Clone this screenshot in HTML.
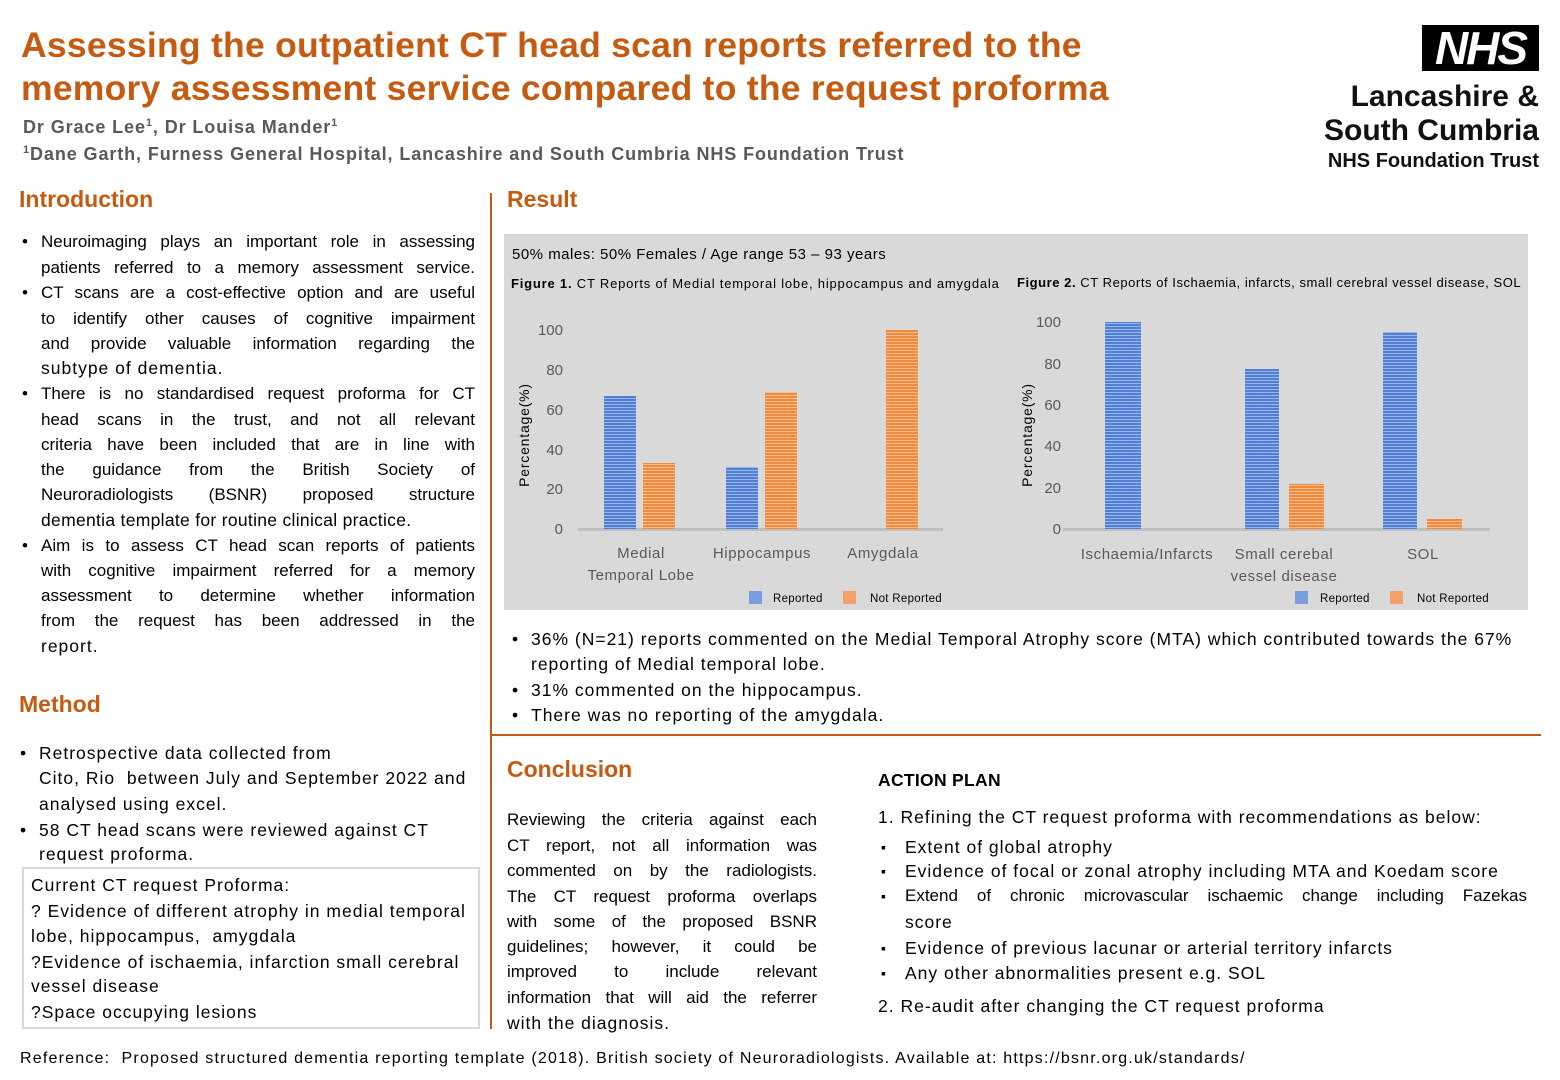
<!DOCTYPE html>
<html><head><meta charset="utf-8">
<style>
*{margin:0;padding:0;box-sizing:border-box}
body{width:1560px;height:1080px;background:#fff;position:relative;overflow:hidden;font-family:"Liberation Sans",sans-serif;color:#000}
.a{position:absolute;white-space:nowrap}
.t{font-weight:bold;color:#C55A11;font-size:35.5px;letter-spacing:0.25px}
.h{font-weight:bold;color:#C55A11;font-size:23px}
.au{font-weight:bold;color:#595959;font-size:18px;letter-spacing:0.9px}
.l{position:absolute;white-space:nowrap;font-size:17.5px;letter-spacing:1px;height:24px;line-height:24px}
.j{text-align:justify;text-align-last:justify;font-size:17px;letter-spacing:0}
.b::before{content:"•";position:absolute;left:-19px}
.s::before{content:"▪";position:absolute;left:-24px;font-size:14px}
</style></head><body>
<div class="a t" style="left:21px;top:25px">Assessing the outpatient CT head scan reports referred to the</div>
<div class="a t" style="left:21px;top:68px">memory assessment service compared to the request proforma</div>
<div class="a au" style="left:23px;top:117px">Dr Grace Lee<sup style="font-size:11px">1</sup>, Dr Louisa Mander<sup style="font-size:11px">1</sup></div>
<div class="a au" style="left:23px;top:144px"><sup style="font-size:11px">1</sup>Dane Garth, Furness General Hospital, Lancashire and South Cumbria NHS Foundation Trust</div>

<div class="a" style="left:1422px;top:25px;width:117px;height:46px;background:#000;color:#fff;font-weight:bold;font-style:italic;font-size:46px;line-height:46px;text-align:center;letter-spacing:-2px">NHS</div>
<div class="a" style="right:21px;top:80px;font-size:30px;font-weight:bold;text-align:right;line-height:34px;color:#111">Lancashire &amp;<br>South Cumbria</div>
<div class="a" style="right:21px;top:150px;font-size:20px;font-weight:bold;color:#111">NHS Foundation Trust</div>

<div class="a" style="left:490px;top:193px;width:2px;height:836px;background:#C55A11"></div>
<div class="a" style="left:490px;top:734px;width:1051px;height:2px;background:#C55A11"></div>

<div class="a h" style="left:19px;top:186px">Introduction</div>
<div class="a h" style="left:507px;top:186px">Result</div>
<div class="a h" style="left:19px;top:691px">Method</div>
<div class="a h" style="left:507px;top:756px">Conclusion</div>

<div class="l j b" style="left:41px;top:230px;width:434px">Neuroimaging plays an important role in assessing</div>
<div class="l j" style="left:41px;top:256px;width:434px">patients referred to a memory assessment service.</div>
<div class="l j b" style="left:41px;top:281px;width:434px">CT scans are a cost-effective option and are useful</div>
<div class="l j" style="left:41px;top:307px;width:434px">to identify other causes of cognitive impairment</div>
<div class="l j" style="left:41px;top:332px;width:434px">and provide valuable information regarding the</div>
<div class="l" style="left:41px;top:356px">subtype of dementia.</div>
<div class="l j b" style="left:41px;top:382px;width:434px">There is no standardised request proforma for CT</div>
<div class="l j" style="left:41px;top:408px;width:434px">head scans in the trust, and not all relevant</div>
<div class="l j" style="left:41px;top:433px;width:434px">criteria have been included that are in line with</div>
<div class="l j" style="left:41px;top:458px;width:434px">the guidance from the British Society of</div>
<div class="l j" style="left:41px;top:483px;width:434px">Neuroradiologists (BSNR) proposed structure</div>
<div class="l" style="left:41px;top:508px;letter-spacing:0.3px">dementia template for routine clinical practice.</div>
<div class="l j b" style="left:41px;top:534px;width:434px">Aim is to assess CT head scan reports of patients</div>
<div class="l j" style="left:41px;top:559px;width:434px">with cognitive impairment referred for a memory</div>
<div class="l j" style="left:41px;top:584px;width:434px">assessment to determine whether information</div>
<div class="l j" style="left:41px;top:609px;width:434px">from the request has been addressed in the</div>
<div class="l" style="left:41px;top:634px">report.</div>

<div class="l b" style="left:39px;top:741px">Retrospective data collected from</div>
<div class="l" style="left:39px;top:766px">Cito, Rio&nbsp; between July and September 2022 and</div>
<div class="l" style="left:39px;top:792px">analysed using excel.</div>
<div class="l b" style="left:39px;top:818px">58 CT head scans were reviewed against CT</div>
<div class="l" style="left:39px;top:842px">request proforma.</div>

<div class="a" style="left:22px;top:867px;width:458px;height:162px;border:2px solid #d9d9d9"></div>
<div class="l" style="left:31px;top:873px">Current CT request Proforma:</div>
<div class="l" style="left:31px;top:899px">? Evidence of different atrophy in medial temporal</div>
<div class="l" style="left:31px;top:924px">lobe, hippocampus,&nbsp; amygdala</div>
<div class="l" style="left:31px;top:950px">?Evidence of ischaemia, infarction small cerebral</div>
<div class="l" style="left:31px;top:974px">vessel disease</div>
<div class="l" style="left:31px;top:1000px">?Space occupying lesions</div>

<div class="l" style="left:20px;top:1047px;font-size:16px;letter-spacing:1.2px">Reference:&nbsp; Proposed structured dementia reporting template (2018). British society of Neuroradiologists. Available at: https://bsnr.org.uk/standards/</div>

<div class="a" style="left:504px;top:234px;width:1024px;height:376px;background:#d9d9d9"></div>
<svg class="a" style="left:0;top:0" width="1560" height="1080" viewBox="0 0 1560 1080" font-family="Liberation Sans, sans-serif">
<defs>
<pattern id="pb" width="4" height="3" patternUnits="userSpaceOnUse"><rect width="4" height="3" fill="#4f7fd6"/><rect y="2" width="4" height="1" fill="#9db6e6"/></pattern>
<pattern id="po" width="4" height="3" patternUnits="userSpaceOnUse"><rect width="4" height="3" fill="#f08a3c"/><rect y="2" width="4" height="1" fill="#f7bb8e"/></pattern>
</defs>
<text x="512" y="259" font-size="15" letter-spacing="0.5">50% males: 50% Females / Age range 53 – 93 years</text>
<text x="511" y="288" font-size="13" letter-spacing="0.8"><tspan font-weight="bold">Figure 1.</tspan> CT Reports of Medial temporal lobe, hippocampus and amygdala</text>
<text x="1017" y="287" font-size="13" letter-spacing="0.55"><tspan font-weight="bold">Figure 2.</tspan> CT Reports of Ischaemia, infarcts, small cerebral vessel disease, SOL</text>
<g font-size="15" fill="#595959" text-anchor="end">
<text x="563" y="335">100</text><text x="563" y="375">80</text><text x="563" y="415">60</text><text x="563" y="455">40</text><text x="563" y="494">20</text><text x="563" y="534">0</text>
<text x="1061" y="327">100</text><text x="1061" y="369">80</text><text x="1061" y="410">60</text><text x="1061" y="451">40</text><text x="1061" y="493">20</text><text x="1061" y="534">0</text>
</g>
<text transform="translate(529,435) rotate(-90)" font-size="14" letter-spacing="0.8" text-anchor="middle">Percentage(%)</text>
<text transform="translate(1032,435) rotate(-90)" font-size="14" letter-spacing="0.8" text-anchor="middle">Percentage(%)</text>
<rect x="578" y="528" width="365" height="3" fill="#bfbfbf"/>
<rect x="1063" y="528" width="427" height="3" fill="#bfbfbf"/>
<rect x="604" y="396" width="32" height="133" fill="url(#pb)"/>
<rect x="643" y="463" width="32" height="66" fill="url(#po)"/>
<rect x="726" y="467" width="32" height="62" fill="url(#pb)"/>
<rect x="765" y="392" width="32" height="137" fill="url(#po)"/>
<rect x="886" y="330" width="32" height="199" fill="url(#po)"/>
<rect x="1105" y="322" width="36" height="207" fill="url(#pb)"/>
<rect x="1245" y="369" width="34" height="160" fill="url(#pb)"/>
<rect x="1289" y="484" width="35" height="45" fill="url(#po)"/>
<rect x="1383" y="332" width="34" height="197" fill="url(#pb)"/>
<rect x="1427" y="519" width="35" height="10" fill="url(#po)"/>
<g font-size="15" fill="#595959" text-anchor="middle" letter-spacing="0.6">
<text x="641" y="558">Medial</text><text x="641" y="580">Temporal Lobe</text>
<text x="762" y="558">Hippocampus</text><text x="883" y="558">Amygdala</text>
<text x="1147" y="559">Ischaemia/Infarcts</text><text x="1284" y="559">Small cerebal</text><text x="1284" y="581">vessel disease</text><text x="1423" y="559">SOL</text>
</g>
<g font-size="11.5" letter-spacing="0.3">
<rect x="749" y="591" width="13" height="13" fill="#7a9de0"/><text x="773" y="602">Reported</text>
<rect x="843" y="591" width="13" height="13" fill="#f4a06a"/><text x="870" y="602">Not Reported</text>
<rect x="1295" y="591" width="13" height="13" fill="#7a9de0"/><text x="1320" y="602">Reported</text>
<rect x="1390" y="591" width="13" height="13" fill="#f4a06a"/><text x="1417" y="602">Not Reported</text>
</g>
</svg>

<div class="l b" style="left:531px;top:627px">36% (N=21) reports commented on the Medial Temporal Atrophy score (MTA) which contributed towards the 67%</div>
<div class="l" style="left:531px;top:652px">reporting of Medial temporal lobe.</div>
<div class="l b" style="left:531px;top:678px">31% commented on the hippocampus.</div>
<div class="l b" style="left:531px;top:703px">There was no reporting of the amygdala.</div>

<div class="l j" style="left:507px;top:808px;width:310px">Reviewing the criteria against each</div>
<div class="l j" style="left:507px;top:834px;width:310px">CT report, not all information was</div>
<div class="l j" style="left:507px;top:859px;width:310px">commented on by the radiologists.</div>
<div class="l j" style="left:507px;top:885px;width:310px">The CT request proforma overlaps</div>
<div class="l j" style="left:507px;top:910px;width:310px">with some of the proposed BSNR</div>
<div class="l j" style="left:507px;top:935px;width:310px">guidelines; however, it could be</div>
<div class="l j" style="left:507px;top:960px;width:310px">improved to include relevant</div>
<div class="l j" style="left:507px;top:986px;width:310px">information that will aid the referrer</div>
<div class="l" style="left:507px;top:1011px">with the diagnosis.</div>

<div class="l" style="left:878px;top:768px;font-weight:bold;letter-spacing:0.3px">ACTION PLAN</div>
<div class="l" style="left:878px;top:805px">1. Refining the CT request proforma with recommendations as below:</div>
<div class="l s" style="left:905px;top:835px">Extent of global atrophy</div>
<div class="l s" style="left:905px;top:859px">Evidence of focal or zonal atrophy including MTA and Koedam score</div>
<div class="l s j" style="left:905px;top:884px;width:622px">Extend of chronic microvascular ischaemic change including Fazekas</div>
<div class="l" style="left:905px;top:910px">score</div>
<div class="l s" style="left:905px;top:936px">Evidence of previous lacunar or arterial territory infarcts</div>
<div class="l s" style="left:905px;top:961px">Any other abnormalities present e.g. SOL</div>
<div class="l" style="left:878px;top:994px">2. Re-audit after changing the CT request proforma</div>
</body></html>
